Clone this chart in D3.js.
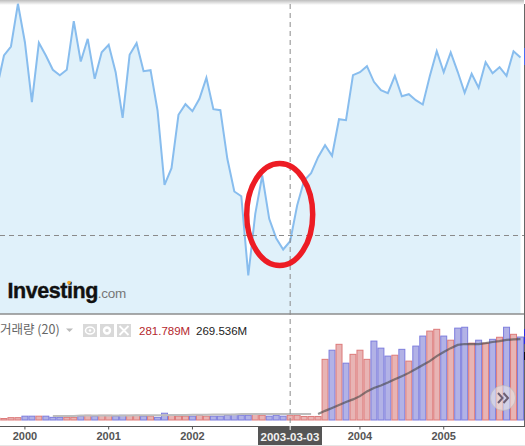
<!DOCTYPE html>
<html>
<head>
<meta charset="utf-8">
<script src="https://cdn.jsdelivr.net/npm/d3@7"></script>
<style>
  html, body { margin: 0; padding: 0; background: #fff; overflow: hidden; }
  svg { display: block; font-family: "Liberation Sans", Arial, sans-serif; }
</style>
</head>
<body>
<svg width="525" height="446"></svg>
<script>
// monthly, Sep 1999 - Dec 2005
var months = d3.timeMonths(new Date(1999, 8, 1), new Date(2006, 0, 1)).map(d3.timeFormat("%Y-%m"));

// no price axis is visible in the picture, so these are relative levels
var price = [226, 258, 267, 309.7, 271.3, 211.3, 270.7, 258, 243.7, 238.3, 243.7, 292.3, 252, 274.7, 234.7, 261.3,
  268.7, 241.3, 195.7, 258.7, 270.3, 242.3, 243.3, 203, 128.7, 145.3, 198.7, 209.3, 202.3, 214.7, 235.7, 204.3,
  203.3, 154.7, 122, 117.3, 38, 99.7, 138, 94.7, 75.3, 64, 72.3, 108, 133, 140.3, 156.3, 168.3,
  157.7, 194.3, 193.3, 238.3, 241.3, 247.3, 231.7, 223.3, 220.3, 237.7, 217.3, 219.3, 213.3, 209, 237.3, 262.3,
  241.3, 261, 241.7, 220.7, 239.7, 225.7, 251.3, 240.3, 246.3, 237.7, 262.3, 256];

// volume in millions
var volume = [6, 5, 8, 8, 13, 13, 13, 13, 9, 9, 9, 9, 13, 16, 13, 16,
  16, 13, 16, 16, 16, 13, 13, 9, 23, 16, 13, 13, 13, 16, 13, 13,
  13, 16, 19, 16, 16, 19, 16, 13, 16, 13, 16, 16, 12, 12, 12, 206,
  237, 257, 193, 223, 237, 206, 268, 244, 217, 220, 240, 200, 251, 285, 302, 308,
  285, 271, 312, 315, 261, 271, 261, 274, 281, 315, 291, 281.789];

// bar colour per month, r = red, b = blue
var volumeDir = "rrrrbbrbbbrrbrbrrbbrrbrbbrrrbrrbbbbbbrrbbbrrrrrrbrbrrrbbbrbrbbrrbrbbrbrbrbrb".split("");

// volume moving average, starts late in the picture
var maMonths = months.slice(8);
var maFlat = [14, 14, 14, 14, 15, 15, 15, 15, 15, 15, 15, 15, 16, 16, 16, 16, 16, 17, 17, 17, 18, 18, 18, 19, 19, 19, 19, 20, 20, 20, 20, 20, 20, 20, 20, 20, 20, 20];
var maRise = [20, 31, 41, 51, 61, 70, 81, 97, 109, 117, 127, 138, 149, 160, 173, 187, 200, 217, 231, 244, 255, 258, 258, 258, 261, 265, 268, 272, 274, 275];

var yearTicks = ["2000-01", "2001-01", "2002-01", "2004-01", "2005-01"];
var crossMonth = "2003-03";
var crossLabel = "2003-03-03";

var svg = d3.select("svg");

var x = d3.scaleBand().domain(months).range([-6.5, 524]);
var cx = function(m) { return x(m) + x.bandwidth() / 2; };
var y = d3.scaleLinear().domain([0, 313.5]).range([313.5, 0]);
var yVol = d3.scaleLinear().domain([0, 360]).range([420, 314]);

// top shadow of the page crop
var defs = svg.append("defs");
var shade = defs.append("linearGradient").attr("id", "shade").attr("x2", 0).attr("y2", 1);
shade.append("stop").attr("offset", 0).attr("stop-color", "#bdbdbd");
shade.append("stop").attr("offset", 1).attr("stop-color", "#fff");
svg.append("rect").attr("width", 524).attr("height", 5).attr("fill", "url(#shade)");

// price
var area = d3.area().x(function(d, i) { return cx(months[i]); }).y0(y(0)).y1(function(d) { return y(d); });
var line = d3.line().x(function(d, i) { return cx(months[i]); }).y(function(d) { return y(d); });

svg.append("path").attr("d", area(price)).attr("fill", "#e0f1fa");
svg.append("path").attr("d", line(price)).attr("fill", "none").attr("stroke", "#88bdee").attr("stroke-width", 2);

// logo
var logo = svg.append("text").attr("x", 7.5).attr("y", 298);
logo.append("tspan").text("Investing").attr("font-size", 21.5).attr("font-weight", "bold")
  .attr("letter-spacing", -0.45).attr("fill", "#111").attr("stroke", "#111").attr("stroke-width", 0.4);
logo.append("tspan").text(".com").attr("font-size", 13.5).attr("fill", "#777").attr("letter-spacing", -0.3);
svg.append("circle").attr("cx", 69).attr("cy", 282.5).attr("r", 1.8).attr("fill", "#f5a623");

// volume bars
svg.selectAll("rect.vol").data(volume).enter().append("rect")
  .attr("class", "vol")
  .attr("x", function(d, i) { return x(months[i]) + 0.5; })
  .attr("width", x.bandwidth() - 1)
  .attr("y", function(d) { return yVol(d); })
  .attr("height", function(d) { return yVol(0) - yVol(d); })
  .attr("fill", function(d, i) { return volumeDir[i] == "b" ? "#b2b2e6" : "#e8b4b4"; })
  .attr("stroke", function(d, i) { return volumeDir[i] == "b" ? "#7d7ddd" : "#dd7a7a"; })
  .attr("stroke-width", 1);

// moving average over the bars
var maLine = d3.line().x(function(d) { return cx(d[0]); }).y(function(d) { return yVol(d[1]); });
svg.append("path").attr("d", maLine(maFlat.map(function(d, i) { return [maMonths[i], d]; })))
  .attr("fill", "none").attr("stroke", "#bdbdbd").attr("stroke-width", 2);
svg.append("path").attr("d", maLine(maRise.map(function(d, i) { return [months[46 + i], d]; })))
  .attr("fill", "none").attr("stroke", "#444").attr("stroke-opacity", 0.6).attr("stroke-width", 2.2);

// panel lines
svg.append("line").attr("x1", 0).attr("x2", 525).attr("y1", 314).attr("y2", 314).attr("stroke", "#555").attr("stroke-width", 1.2);
svg.append("line").attr("x1", 524.5).attr("x2", 524.5).attr("y1", 4).attr("y2", 427).attr("stroke", "#666");

// crosshair
svg.append("line").attr("x1", cx(crossMonth)).attr("x2", cx(crossMonth)).attr("y1", 4).attr("y2", 426)
  .attr("stroke", "#8a8a8a").attr("stroke-dasharray", "5,4");
svg.append("line").attr("x1", 0).attr("x2", 524).attr("y1", 235.5).attr("y2", 235.5)
  .attr("stroke", "#8a8a8a").attr("stroke-dasharray", "5,4");

// time axis
var xAxis = d3.axisBottom(x).tickValues(yearTicks).tickSize(3).tickPadding(3)
  .tickFormat(function(d) { return d.slice(0, 4); });
var axisG = svg.append("g").attr("transform", "translate(0,426.5)").call(xAxis);
axisG.select(".domain").attr("stroke", "#555").attr("stroke-width", 1.2).attr("d", "M0,0H525");
axisG.selectAll("line").attr("stroke", "#555");
axisG.selectAll("text").attr("font-size", 11).attr("font-weight", "bold").attr("fill", "#555")
  .attr("font-family", "Liberation Sans");

svg.append("rect").attr("x", 258).attr("y", 427).attr("width", 64).attr("height", 18.5).attr("fill", "#555");
svg.append("line").attr("x1", cx(crossMonth)).attr("x2", cx(crossMonth)).attr("y1", 426).attr("y2", 430).attr("stroke", "#fff");
svg.append("text").attr("x", 290).attr("y", 441).attr("text-anchor", "middle").attr("font-size", 11.5)
  .attr("font-weight", "bold").attr("fill", "#f2f2f2").text(crossLabel);
svg.append("rect").attr("y", 445).attr("width", 525).attr("height", 1).attr("fill", "#e6e6e6");

// volume legend
svg.append("text").attr("x", 0).attr("y", 334).attr("font-size", 12.5).attr("fill", "#666")
  .attr("font-family", "'Noto Sans CJK KR', 'Liberation Sans'").text("거래량 (20)");
svg.append("path").attr("d", "M66,328.5h7l-3.5,3.5z").attr("fill", "#bbb");

var iconX = [83, 100, 117];
svg.selectAll("rect.icon").data(iconX).enter().append("rect").attr("class", "icon")
  .attr("x", function(d) { return d; }).attr("y", 324).attr("width", 14).attr("height", 13).attr("fill", "#d9d9d9");
svg.append("ellipse").attr("cx", 90).attr("cy", 330.5).attr("rx", 4.5).attr("ry", 3.5).attr("fill", "none").attr("stroke", "#fff").attr("stroke-width", 1.5);
svg.append("circle").attr("cx", 90).attr("cy", 330.5).attr("r", 1.3).attr("fill", "#fff");
svg.append("circle").attr("cx", 107).attr("cy", 330.5).attr("r", 3).attr("fill", "none").attr("stroke", "#fff").attr("stroke-width", 2.4);
svg.append("path").attr("d", "M119.5,326l9,9M128.5,326l-9,9").attr("stroke", "#fff").attr("stroke-width", 1.8);

svg.append("text").attr("x", 139).attr("y", 334.5).attr("font-size", 11.5).attr("fill", "#b5272d").text("281.789M");
svg.append("text").attr("x", 196).attr("y", 334.5).attr("font-size", 11.5).attr("fill", "#222").text("269.536M");

// scroll button
svg.append("circle").attr("cx", 503).attr("cy", 398).attr("r", 12.5)
  .attr("fill", "#e6e6e6").attr("fill-opacity", 0.6).attr("stroke", "#bbb").attr("stroke-opacity", 0.6);
svg.append("path").attr("d", "M498,393l4.5,5l-4.5,5M503.5,393l4.5,5l-4.5,5")
  .attr("fill", "none").attr("stroke", "#6e5f73").attr("stroke-width", 2);

// cropped value labels on the right edge
var edgeTags = [[48, 17, "#4a6cf0"], [329, 7, "#2a2ae0"], [337, 7, "#2a2ae0"], [352, 8, "#111"]];
svg.selectAll("rect.tag").data(edgeTags).enter().append("rect").attr("class", "tag")
  .attr("x", 524).attr("width", 1)
  .attr("y", function(d) { return d[0]; })
  .attr("height", function(d) { return d[1]; })
  .attr("fill", function(d) { return d[2]; });

// red hand drawn ellipse
svg.append("ellipse").attr("cx", 279.7).attr("cy", 214.5).attr("rx", 33).attr("ry", 51)
  .attr("fill", "none").attr("stroke", "#ed1c24").attr("stroke-width", 5.5);
</script>
</body>
</html>
